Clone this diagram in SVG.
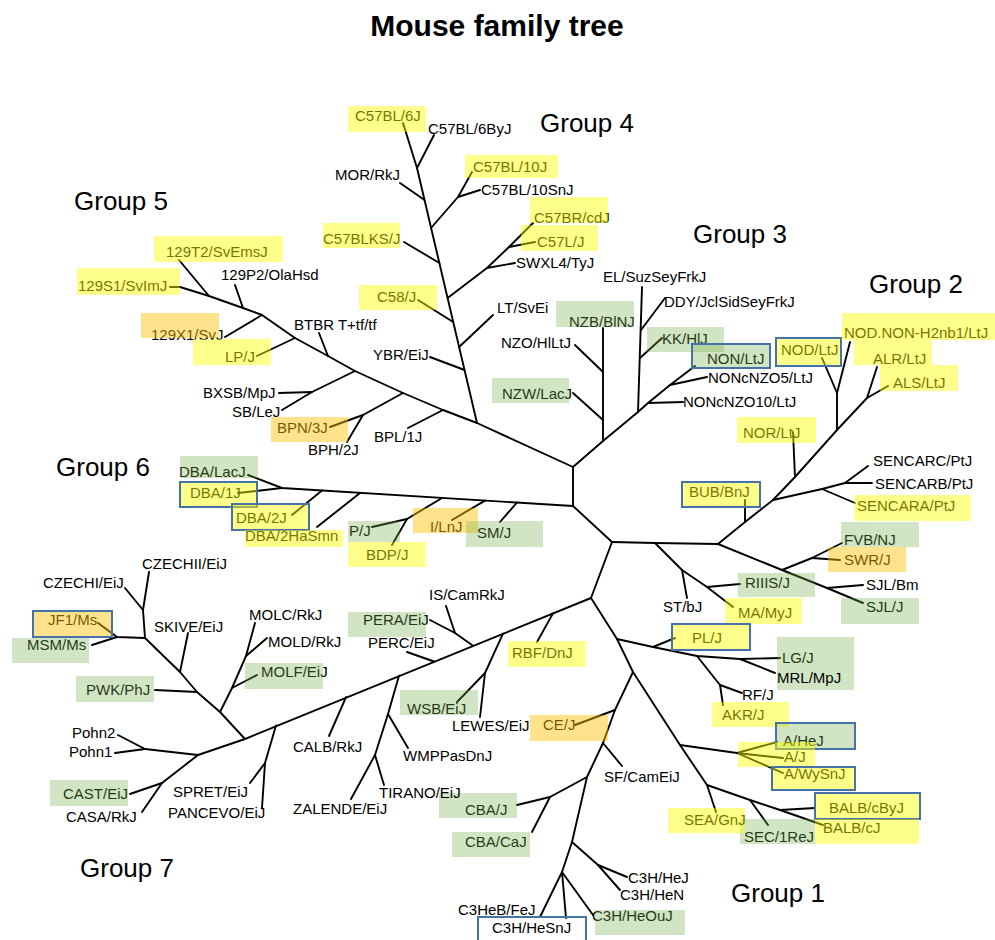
<svg xmlns="http://www.w3.org/2000/svg" width="995" height="940" viewBox="0 0 995 940">
<style>
.t{font-family:"Liberation Sans",Arial,sans-serif;font-size:15px;fill:#000}
.gl{font-family:"Liberation Sans",Arial,sans-serif;font-size:26px;fill:#000}
.ti{font-family:"Liberation Sans",Arial,sans-serif;font-size:30px;font-weight:bold;fill:#000}
.c path{fill:none;stroke:#000;stroke-width:1.9;stroke-linejoin:round;stroke-linecap:round}
.hy{fill:#ffff00;fill-opacity:.45}
.hg{fill:#70ad47;fill-opacity:.32}
.ho{fill:#ffc000;fill-opacity:.45}
.bb{fill:none;stroke:#4672aa;stroke-width:2}
</style>
<rect width="995" height="940" fill="#fff"/>
<text class="ti" x="497" y="36" text-anchor="middle">Mouse family tree</text>
<g id="group-labels">
<text class="gl" x="540" y="132">Group 4</text>
<text class="gl" x="74" y="210">Group 5</text>
<text class="gl" x="693" y="243">Group 3</text>
<text class="gl" x="869" y="293">Group 2</text>
<text class="gl" x="56" y="476">Group 6</text>
<text class="gl" x="80" y="877">Group 7</text>
<text class="gl" x="731" y="902">Group 1</text>
</g>
<g id="connectors" class="c">
<path d="M573 467 L573 506 L612 542 L591 598"/>
<path d="M170 287 L180 287 L209 296 L243 308 L262 315 L295 338 L328 356 L355 371 L403 393 L443 410 L477 423 L573 467"/>
<path d="M179 260 L209 296"/>
<path d="M235 285 L243 308"/>
<path d="M225 337 L262 315"/>
<path d="M257 356 L295 338"/>
<path d="M319 333 L328 356"/>
<path d="M279 393 L312 392 L355 371"/>
<path d="M282 410 L312 392"/>
<path d="M330 427 L363 415 L403 393"/>
<path d="M347 442 L363 415"/>
<path d="M408 428 L443 410"/>
<path d="M477 423 L417 168"/>
<path d="M403 123 L417 168 L434 135"/>
<path d="M400 183 L424.5 200"/>
<path d="M431 228 L458 197 L472 172"/>
<path d="M458 197 L480 190"/>
<path d="M404 242 L439.4 263"/>
<path d="M447.6 298 L487 268 L509 247 L533 223"/>
<path d="M487 268 L515 263"/>
<path d="M509 247 L535 242"/>
<path d="M418 300 L453.2 322"/>
<path d="M493 315 L459.1 347"/>
<path d="M430 357 L464.5 370"/>
<path d="M573 467 L603 441 L638 412 L648 403 L670 385 L695 366"/>
<path d="M603 328 L603 441"/>
<path d="M575 345 L603 372"/>
<path d="M573 393 L603 420"/>
<path d="M642 287 L638 412"/>
<path d="M665 298 L641 330"/>
<path d="M662 338 L640 358"/>
<path d="M683 402 L648 403"/>
<path d="M707 377 L670 385"/>
<path d="M612 542 L655 543 L718 544 L745 522 L773 500 L795 477 L837 430"/>
<path d="M745 500 L745 522"/>
<path d="M773 500 L822 489 L845 483 L868 466"/>
<path d="M845 483 L872 483"/>
<path d="M822 489 L855 503"/>
<path d="M793 432 L795 477"/>
<path d="M837 430 L837 393 L822 358"/>
<path d="M837 393 L850 342"/>
<path d="M837 430 L867 398 L877 367"/>
<path d="M867 398 L888 386"/>
<path d="M718 544 L782 570 L827 588 L863 603"/>
<path d="M782 570 L812 558 L842 543"/>
<path d="M812 558 L840 560"/>
<path d="M827 588 L863 585"/>
<path d="M655 543 L682 570 L707 587 L733 607"/>
<path d="M682 570 L687 598"/>
<path d="M707 587 L740 584"/>
<path d="M591 598 L617 639 L653 647 L697 656 L740 659 L780 658"/>
<path d="M740 659 L775 673"/>
<path d="M653 647 L675 638"/>
<path d="M697 656 L720 685 L723 705"/>
<path d="M720 685 L742 693"/>
<path d="M617 639 L633 672 L680 745 L707 785 L716 812"/>
<path d="M680 745 L737 753 L777 742"/>
<path d="M737 753 L783 758"/>
<path d="M737 753 L783 773"/>
<path d="M707 785 L750 800 L780 810 L815 808"/>
<path d="M780 810 L823 825"/>
<path d="M750 800 L768 825"/>
<path d="M633 672 L615 710 L603 743 L587 777 L572 842 L562 872 L540 917"/>
<path d="M575 725 L615 710"/>
<path d="M603 743 L622 766"/>
<path d="M587 777 L550 797 L517 805"/>
<path d="M550 797 L532 832"/>
<path d="M572 842 L598 865 L627 877"/>
<path d="M598 865 L620 890"/>
<path d="M562 872 L566 918"/>
<path d="M562 872 L593 915"/>
<path d="M591 598 L245 739 L198 755 L145 749 L118 735"/>
<path d="M145 749 L115 753"/>
<path d="M198 755 L162 783 L130 794"/>
<path d="M162 783 L142 812"/>
<path d="M553 613.4 L537 642"/>
<path d="M503 633.6 L485 673 L457 702"/>
<path d="M485 673 L480 717"/>
<path d="M473 645.7 L455 633 L430 620"/>
<path d="M455 633 L446 606"/>
<path d="M434 661.5 L407 652"/>
<path d="M399 675.7 L388 714 L375 755 L351 799"/>
<path d="M388 714 L408 748"/>
<path d="M375 755 L384 785"/>
<path d="M346 697.1 L329 736"/>
<path d="M276 725.5 L265 763 L250 783"/>
<path d="M265 763 L262 808"/>
<path d="M245 739 L220 712 L197 692 L180 672 L145 638 L143 610 L149 572"/>
<path d="M143 610 L125 588"/>
<path d="M155 690 L197 692"/>
<path d="M188 633 L180 672"/>
<path d="M220 712 L232 688 L246 656 L255 623"/>
<path d="M232 688 L257 675"/>
<path d="M246 656 L267 638"/>
<path d="M145 638 L117 637 L98 623"/>
<path d="M117 637 L92 645"/>
<path d="M573 506 L282 488 L248 475"/>
<path d="M282 488 L238 493"/>
<path d="M500 522 L517 502.5"/>
<path d="M452 520 L485 500.6"/>
<path d="M442 498 L407 519 L372 527"/>
<path d="M407 519 L392 545"/>
<path d="M317 527 L360 493"/>
<path d="M292 515 L322 490.5"/>
</g>
<g id="n129T2"><text class="t" x="166" y="257">129T2/SvEmsJ</text><rect class="hy" x="154" y="236" width="129" height="26"/></g>
<g id="n129P2"><text class="t" x="221" y="280">129P2/OlaHsd</text></g>
<g id="n129S1"><text class="t" x="78" y="291">129S1/SvImJ</text><rect class="hy" x="77" y="268" width="103" height="27"/></g>
<g id="n129X1"><text class="t" x="151" y="340">129X1/SvJ</text><rect class="ho" x="141" y="313" width="78" height="25"/></g>
<g id="nLP"><text class="t" x="225" y="362">LP/J</text><rect class="hy" x="193" y="339" width="78" height="26"/></g>
<g id="nBTBR"><text class="t" x="294" y="330">BTBR T+tf/tf</text></g>
<g id="nBXSB"><text class="t" x="203" y="398">BXSB/MpJ</text></g>
<g id="nSB"><text class="t" x="232" y="417">SB/LeJ</text></g>
<g id="nBPN"><text class="t" x="277" y="433">BPN/3J</text><rect class="ho" x="271" y="417" width="77" height="25"/></g>
<g id="nBPH"><text class="t" x="308" y="455">BPH/2J</text></g>
<g id="nBPL"><text class="t" x="374" y="442">BPL/1J</text></g>
<g id="nC57BL6J"><text class="t" x="355" y="121">C57BL/6J</text><rect class="hy" x="348" y="106" width="78" height="26"/></g>
<g id="nC57BL6ByJ"><text class="t" x="428" y="134">C57BL/6ByJ</text></g>
<g id="nMOR"><text class="t" x="335" y="180">MOR/RkJ</text></g>
<g id="nC57BL10J"><text class="t" x="473" y="172">C57BL/10J</text><rect class="hy" x="465" y="155" width="93" height="23"/></g>
<g id="nC57BL10SnJ"><text class="t" x="481" y="195">C57BL/10SnJ</text></g>
<g id="nC57BLKS"><text class="t" x="323" y="244">C57BLKS/J</text><rect class="hy" x="323" y="223" width="77" height="25"/></g>
<g id="nC57BR"><text class="t" x="534" y="223">C57BR/cdJ</text><rect class="hy" x="530" y="197" width="78" height="26"/></g>
<g id="nC57L"><text class="t" x="537" y="247">C57L/J</text><rect class="hy" x="521" y="225" width="77" height="26"/></g>
<g id="nSWXL4"><text class="t" x="516" y="268">SWXL4/TyJ</text></g>
<g id="nC58"><text class="t" x="377" y="302">C58/J</text><rect class="hy" x="359" y="285" width="78" height="25"/></g>
<g id="nLT"><text class="t" x="497" y="313">LT/SvEi</text></g>
<g id="nYBR"><text class="t" x="373" y="360">YBR/EiJ</text></g>
<g id="nEL"><text class="t" x="603" y="282">EL/SuzSeyFrkJ</text></g>
<g id="nDDY"><text class="t" x="664" y="307">DDY/JclSidSeyFrkJ</text></g>
<g id="nNZB"><text class="t" x="569" y="327">NZB/BlNJ</text><rect class="hg" x="556" y="301" width="78" height="26"/></g>
<g id="nNZO"><text class="t" x="501" y="348">NZO/HlLtJ</text></g>
<g id="nKK"><text class="t" x="662" y="344">KK/HlJ</text><rect class="hg" x="647" y="327" width="77" height="25"/></g>
<g id="nNON"><text class="t" x="707" y="364">NON/LtJ</text><rect class="hg" x="692" y="344" width="78" height="24"/><rect class="bb" x="692" y="344" width="78" height="24"/></g>
<g id="nNONcNZO5"><text class="t" x="708" y="383">NONcNZO5/LtJ</text></g>
<g id="nNONcNZO10"><text class="t" x="683" y="407">NONcNZO10/LtJ</text></g>
<g id="nNZW"><text class="t" x="502" y="399">NZW/LacJ</text><rect class="hg" x="492" y="378" width="77" height="25"/></g>
<g id="nNODNON"><text class="t" x="844" y="338">NOD.NON-H2nb1/LtJ</text><rect class="hy" x="842" y="313" width="153" height="27"/></g>
<g id="nNOD"><text class="t" x="781" y="355">NOD/LtJ</text><rect class="hy" x="776" y="338" width="65" height="28"/><rect class="bb" x="776" y="338" width="65" height="28"/></g>
<g id="nALR"><text class="t" x="873" y="364">ALR/LtJ</text><rect class="hy" x="854" y="340" width="78" height="25"/></g>
<g id="nALS"><text class="t" x="893" y="388">ALS/LtJ</text><rect class="hy" x="880" y="365" width="78" height="26"/></g>
<g id="nNOR"><text class="t" x="743" y="438">NOR/LtJ</text><rect class="hy" x="737" y="417" width="79" height="26"/></g>
<g id="nBUB"><text class="t" x="689" y="497">BUB/BnJ</text><rect class="hy" x="682" y="482" width="78" height="25"/><rect class="bb" x="682" y="482" width="78" height="25"/></g>
<g id="nSENCARC"><text class="t" x="873" y="466">SENCARC/PtJ</text></g>
<g id="nSENCARB"><text class="t" x="875" y="489">SENCARB/PtJ</text></g>
<g id="nSENCARA"><text class="t" x="857" y="511">SENCARA/PtJ</text><rect class="hy" x="854" y="495" width="117" height="26"/></g>
<g id="nFVB"><text class="t" x="844" y="545">FVB/NJ</text><rect class="hg" x="841" y="522" width="78" height="25"/></g>
<g id="nSWR"><text class="t" x="844" y="565">SWR/J</text><rect class="ho" x="828" y="547" width="78" height="25"/></g>
<g id="nSJLBm"><text class="t" x="866" y="590">SJL/Bm</text></g>
<g id="nSJLJ"><text class="t" x="866" y="612">SJL/J</text><rect class="hg" x="841" y="598" width="78" height="26"/></g>
<g id="nRIIIS"><text class="t" x="745" y="588">RIIIS/J</text><rect class="hg" x="738" y="573" width="77" height="24"/></g>
<g id="nMA"><text class="t" x="738" y="618">MA/MyJ</text><rect class="hy" x="725" y="598" width="77" height="26"/></g>
<g id="nST"><text class="t" x="663" y="612">ST/bJ</text></g>
<g id="nPL"><text class="t" x="692" y="643">PL/J</text><rect class="hy" x="672" y="624" width="78" height="26"/><rect class="bb" x="672" y="624" width="78" height="26"/></g>
<g id="nLG"><text class="t" x="782" y="663">LG/J</text><rect class="hg" x="777" y="637" width="77" height="53"/></g>
<g id="nMRL"><text class="t" x="777" y="683">MRL/MpJ</text></g>
<g id="nRF"><text class="t" x="742" y="700">RF/J</text></g>
<g id="nAKR"><text class="t" x="722" y="720">AKR/J</text><rect class="hy" x="712" y="702" width="77" height="25"/></g>
<g id="nAHeJ"><text class="t" x="783" y="746">A/HeJ</text><rect class="hg" x="776" y="723" width="79" height="26"/><rect class="bb" x="776" y="723" width="79" height="26"/></g>
<g id="nAJ"><text class="t" x="784" y="762">A/J</text><rect class="hy" x="738" y="742" width="77" height="25"/></g>
<g id="nAWySnJ"><text class="t" x="784" y="779">A/WySnJ</text><rect class="hy" x="772" y="767" width="83" height="23"/><rect class="bb" x="772" y="767" width="83" height="23"/></g>
<g id="nBALBcByJ"><text class="t" x="829" y="813">BALB/cByJ</text><rect class="hy" x="815" y="793" width="105" height="26"/><rect class="bb" x="815" y="793" width="105" height="26"/></g>
<g id="nBALBcJ"><text class="t" x="823" y="833">BALB/cJ</text><rect class="hy" x="815" y="819" width="104" height="25"/></g>
<g id="nSEC"><text class="t" x="744" y="842">SEC/1ReJ</text><rect class="hg" x="740" y="819" width="75" height="25"/></g>
<g id="nSEA"><text class="t" x="684" y="825">SEA/GnJ</text><rect class="hy" x="668" y="808" width="77" height="25"/></g>
<g id="nCE"><text class="t" x="543" y="730">CE/J</text><rect class="ho" x="530" y="715" width="78" height="26"/></g>
<g id="nSF"><text class="t" x="604" y="782">SF/CamEiJ</text></g>
<g id="nCBAJ"><text class="t" x="465" y="815">CBA/J</text><rect class="hg" x="439" y="793" width="78" height="25"/></g>
<g id="nCBACaJ"><text class="t" x="465" y="847">CBA/CaJ</text><rect class="hg" x="452" y="832" width="78" height="25"/></g>
<g id="nC3HHeJ"><text class="t" x="628" y="883">C3H/HeJ</text></g>
<g id="nC3HHeN"><text class="t" x="620" y="900">C3H/HeN</text></g>
<g id="nC3HHeOuJ"><text class="t" x="592" y="921">C3H/HeOuJ</text><rect class="hg" x="595" y="910" width="90" height="25"/></g>
<g id="nC3HeB"><text class="t" x="458" y="915">C3HeB/FeJ</text></g>
<g id="nC3HHeSnJ"><text class="t" x="492" y="933">C3H/HeSnJ</text><rect class="bb" x="478" y="917" width="108" height="24"/></g>
<g id="nRBF"><text class="t" x="512" y="658">RBF/DnJ</text><rect class="hy" x="508" y="641" width="78" height="26"/></g>
<g id="nWSB"><text class="t" x="407" y="714">WSB/EiJ</text><rect class="hg" x="400" y="690" width="78" height="25"/></g>
<g id="nLEWES"><text class="t" x="452" y="731">LEWES/EiJ</text></g>
<g id="nIS"><text class="t" x="429" y="600">IS/CamRkJ</text></g>
<g id="nPERA"><text class="t" x="363" y="625">PERA/EiJ</text><rect class="hg" x="348" y="612" width="78" height="25"/></g>
<g id="nPERC"><text class="t" x="368" y="648">PERC/EiJ</text></g>
<g id="nWMPP"><text class="t" x="403" y="761">WMPPasDnJ</text></g>
<g id="nTIRANO"><text class="t" x="379" y="798">TIRANO/EiJ</text></g>
<g id="nZALENDE"><text class="t" x="293" y="814">ZALENDE/EiJ</text></g>
<g id="nCALB"><text class="t" x="293" y="752">CALB/RkJ</text></g>
<g id="nSPRET"><text class="t" x="173" y="797">SPRET/EiJ</text></g>
<g id="nPANCEVO"><text class="t" x="168" y="818">PANCEVO/EiJ</text></g>
<g id="nCAST"><text class="t" x="63" y="799">CAST/EiJ</text><rect class="hg" x="50" y="780" width="78" height="26"/></g>
<g id="nCASA"><text class="t" x="66" y="822">CASA/RkJ</text></g>
<g id="nPohn2"><text class="t" x="72" y="738">Pohn2</text></g>
<g id="nPohn1"><text class="t" x="69" y="757">Pohn1</text></g>
<g id="nPWK"><text class="t" x="86" y="695">PWK/PhJ</text><rect class="hg" x="76" y="676" width="78" height="26"/></g>
<g id="nMOLF"><text class="t" x="261" y="677">MOLF/EiJ</text><rect class="hg" x="245" y="663" width="78" height="26"/></g>
<g id="nMOLD"><text class="t" x="268" y="647">MOLD/RkJ</text></g>
<g id="nMOLC"><text class="t" x="249" y="620">MOLC/RkJ</text></g>
<g id="nSKIVE"><text class="t" x="154" y="632">SKIVE/EiJ</text></g>
<g id="nCZECHI"><text class="t" x="43" y="588">CZECHI/EiJ</text></g>
<g id="nCZECHII"><text class="t" x="142" y="569">CZECHII/EiJ</text></g>
<g id="nJF1"><text class="t" x="48" y="625">JF1/Ms</text><rect class="ho" x="33" y="611" width="79" height="26"/><rect class="bb" x="33" y="611" width="79" height="26"/></g>
<g id="nMSM"><text class="t" x="27" y="650">MSM/Ms</text><rect class="hg" x="12" y="638" width="77" height="25"/></g>
<g id="nDBALacJ"><text class="t" x="179" y="477">DBA/LacJ</text><rect class="hg" x="180" y="456" width="78" height="22"/></g>
<g id="nDBA1J"><text class="t" x="190" y="498">DBA/1J</text><rect class="hy" x="180" y="482" width="77" height="25"/><rect class="bb" x="180" y="482" width="77" height="25"/></g>
<g id="nDBA2J"><text class="t" x="236" y="523">DBA/2J</text><rect class="hy" x="232" y="504" width="77" height="26"/><rect class="bb" x="232" y="504" width="77" height="26"/></g>
<g id="nDBA2HaSmn"><text class="t" x="245" y="541">DBA/2HaSmn</text><rect class="hy" x="245" y="530" width="98" height="17"/></g>
<g id="nPJ"><text class="t" x="349" y="536">P/J</text><rect class="hg" x="348" y="521" width="52" height="21"/></g>
<g id="nBDP"><text class="t" x="366" y="560">BDP/J</text><rect class="hy" x="348" y="542" width="78" height="25"/></g>
<g id="nILnJ"><text class="t" x="430" y="532">I/LnJ</text><rect class="ho" x="413" y="508" width="65" height="25"/></g>
<g id="nSM"><text class="t" x="477" y="538">SM/J</text><rect class="hg" x="466" y="521" width="77" height="26"/></g>
</svg>
